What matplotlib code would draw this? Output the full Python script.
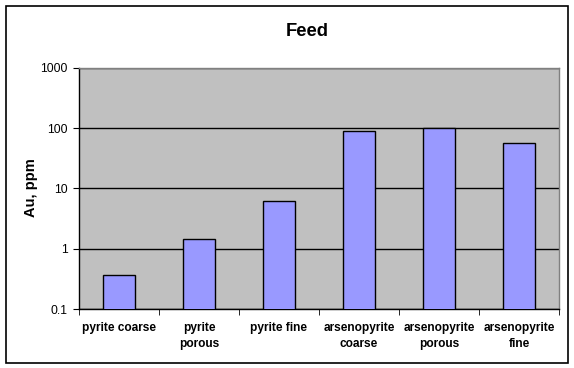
import matplotlib
matplotlib.use("Agg")
import matplotlib.pyplot as plt
from matplotlib.patches import Rectangle
from matplotlib.ticker import FixedLocator, NullLocator

categories = ["pyrite coarse", "pyrite\nporous", "pyrite fine",
              "arsenopyrite\ncoarse", "arsenopyrite\nporous", "arsenopyrite\nfine"]
values = [0.363, 1.45, 6.15, 89, 100, 56]
yticks = [0.1, 1, 10, 100, 1000]
ytick_labels = ["0.1", "1", "10", "100", "1000"]

plt.rcParams['font.family'] = ['Liberation Sans', 'DejaVu Sans']

W, H = 574, 368
fig = plt.figure(figsize=(W/100, H/100), dpi=100)
fig.patch.set_facecolor('white')
fig.patches.append(Rectangle((5.5/W, 1 - 362.5/H), (567.5-5.5)/W, (362.5-6)/H,
                             transform=fig.transFigure, fill=False,
                             edgecolor='black', linewidth=1.2))

x0, x1, y0, y1 = 79, 559, 67.7, 309
ax = fig.add_axes([x0/W, 1 - y1/H, (x1-x0)/W, (y1-y0)/H])
ax.set_facecolor('#C0C0C0')

xs = list(range(len(categories)))
ax.bar(xs, values, width=0.4, color='#9999FF', edgecolor='black',
       linewidth=1.0, zorder=3)

ax.set_yscale('log')
ax.set_ylim(0.1, 1000)
ax.set_xlim(-0.5, len(categories) - 0.5)
ax.yaxis.set_major_locator(FixedLocator(yticks))
ax.yaxis.set_minor_locator(NullLocator())
ax.set_yticklabels(ytick_labels, fontsize=8.7)
ax.grid(axis='y', color='black', linewidth=1.0, zorder=1)
ax.set_axisbelow(True)

ax.set_xticks(xs)
ax.set_xticklabels(categories, fontsize=8.6, fontweight='bold', linespacing=1.55)
ax.tick_params(axis='x', length=0, pad=9)
ax.set_xticks([i - 0.5 for i in range(len(categories) + 1)], minor=True)
ax.tick_params(axis='x', which='minor', length=4, direction='out', color='black')
ax.tick_params(axis='y', length=4, direction='out', pad=4, color='black')

for s in ['top', 'right']:
    ax.spines[s].set_color('#808080')
for s in ['left', 'bottom']:
    ax.spines[s].set_color('black')
for s in ax.spines.values():
    s.set_linewidth(1.0)

fig.text(307/W, 1 - 31/H, "Feed", ha='center', va='center', fontsize=13.2, fontweight='bold')
fig.text(31/W, 1 - 188/H, "Au, ppm", ha='center', va='center', rotation=90,
         fontsize=10.5, fontweight='bold')

fig.savefig("out.png", dpi=100)
